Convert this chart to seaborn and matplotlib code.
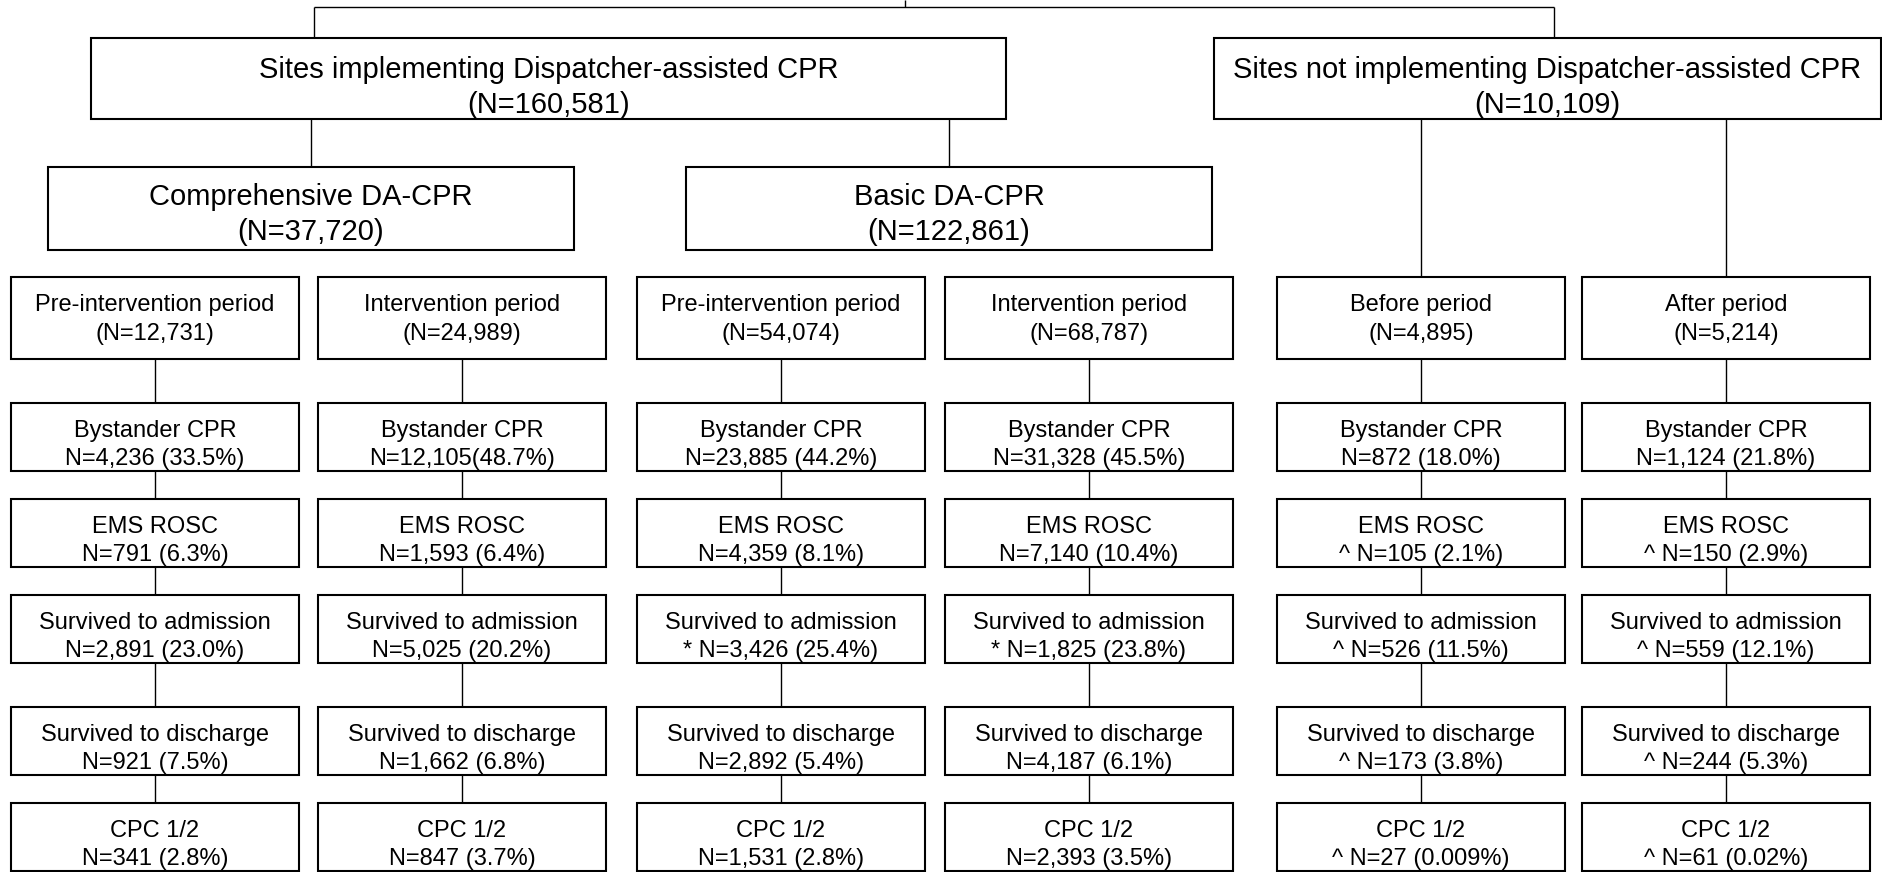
import matplotlib.pyplot as plt
import seaborn as sns
from matplotlib.patches import Rectangle

# 資料：各層方框的文字
top_groups = ["Sites implementing Dispatcher-assisted CPR", "Sites not implementing Dispatcher-assisted CPR"]
top_n = ["160,581", "10,109"]
da_groups = ["Comprehensive DA-CPR", "Basic DA-CPR"]
da_n = ["37,720", "122,861"]

periods = ["Pre-intervention period", "Intervention period", "Pre-intervention period",
           "Intervention period", "Before period", "After period"]
period_n = ["12,731", "24,989", "54,074", "68,787", "4,895", "5,214"]

outcomes = ["Bystander CPR", "EMS ROSC", "Survived to admission", "Survived to discharge", "CPC 1/2"]
bystander_cpr = ["N=4,236 (33.5%)", "N=12,105(48.7%)", "N=23,885 (44.2%)", "N=31,328 (45.5%)",
                 "N=872 (18.0%)", "N=1,124 (21.8%)"]
ems_rosc = ["N=791 (6.3%)", "N=1,593 (6.4%)", "N=4,359 (8.1%)", "N=7,140 (10.4%)",
            "^ N=105 (2.1%)", "^ N=150 (2.9%)"]
survived_admission = ["N=2,891 (23.0%)", "N=5,025 (20.2%)", "* N=3,426 (25.4%)", "* N=1,825 (23.8%)",
                      "^ N=526 (11.5%)", "^ N=559 (12.1%)"]
survived_discharge = ["N=921 (7.5%)", "N=1,662 (6.8%)", "N=2,892 (5.4%)", "N=4,187 (6.1%)",
                      "^ N=173 (3.8%)", "^ N=244 (5.3%)"]
cpc_12 = ["N=341 (2.8%)", "N=847 (3.7%)", "N=1,531 (2.8%)", "N=2,393 (3.5%)",
          "^ N=27 (0.009%)", "^ N=61 (0.02%)"]
outcome_values = [bystander_cpr, ems_rosc, survived_admission, survived_discharge, cpc_12]

# 版面（像素座標）
W, H = 1883, 872
col_left = [11, 318, 637, 945, 1277, 1582]
col_w = 288
period_y = (277, 359)
outcome_y = [(403, 471), (499, 567), (595, 663), (707, 775), (803, 871)]
top_boxes = [(91, 38, 1006, 119), (1214, 38, 1881, 119)]
da_boxes = [(48, 167, 574, 250), (686, 167, 1212, 250)]

sns.set_theme(style="white")
plt.rcParams["font.family"] = ["Liberation Sans", "DejaVu Sans"]

fig = plt.figure(figsize=(W / 100, H / 100), dpi=100)
ax = fig.add_axes([0, 0, 1, 1])
ax.set_xlim(0, W)
ax.set_ylim(H, 0)
ax.axis("off")

BOX_LW = 1.5
LINE_LW = 1.0


def box(x0, y0, x1, y1, line1, line2, size, off1, off2):
    ax.add_patch(Rectangle((x0, y0), x1 - x0, y1 - y0, fill=False, edgecolor="black", linewidth=BOX_LW))
    cx = (x0 + x1) / 2
    ax.text(cx, y0 + off1, line1, ha="center", va="baseline", fontsize=size, color="black")
    ax.text(cx, y0 + off2, line2, ha="center", va="baseline", fontsize=size, color="black")


def line(xs, ys):
    ax.plot(xs, ys, color="black", linewidth=LINE_LW, solid_capstyle="butt")


# 連接線
line([905, 905], [0, 7])
line([314, 1554], [7, 7])
line([314, 314], [7, 38])
line([1554, 1554], [7, 38])
line([311, 311], [119, 167])
line([949, 949], [119, 167])
for i in (4, 5):
    cx = col_left[i] + col_w / 2
    line([cx, cx], [119, period_y[0]])

for i in range(len(periods)):
    cx = col_left[i] + col_w / 2
    prev_bottom = period_y[1]
    for y0, y1 in outcome_y:
        line([cx, cx], [prev_bottom, y0])
        prev_bottom = y1

# 方框
for (x0, y0, x1, y1), name, n in zip(top_boxes, top_groups, top_n):
    box(x0, y0, x1, y1, name, f"(N={n})", 21, 40, 75)
for (x0, y0, x1, y1), name, n in zip(da_boxes, da_groups, da_n):
    box(x0, y0, x1, y1, name, f"(N={n})", 21, 38, 73)

for i, (name, n) in enumerate(zip(periods, period_n)):
    x0 = col_left[i]
    box(x0, period_y[0], x0 + col_w, period_y[1], name, f"(N={n})", 17, 34, 63)
    for (y0, y1), label, vals in zip(outcome_y, outcomes, outcome_values):
        box(x0, y0, x0 + col_w, y1, label, vals[i], 17, 34, 62)

fig.savefig("out.png", dpi=100, facecolor="white")
